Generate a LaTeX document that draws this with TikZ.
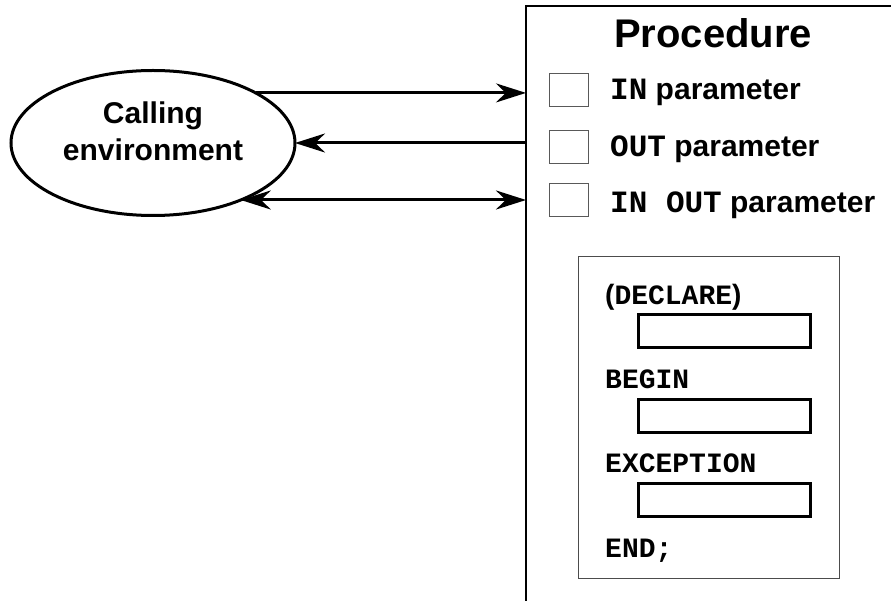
\documentclass[tikz,border=0pt]{standalone}
\usepackage{fontspec}
\setsansfont{Liberation Sans}
\setmonofont{Liberation Mono}
\usetikzlibrary{positioning,arrows.meta,shapes.geometric}

\begin{document}
\begin{tikzpicture}[x=1pt,y=-1pt,
    flecha/.style={line width=3pt,>={Stealth[length=30pt,width=19pt]}},
    casilla/.style={draw=black!65,line width=1pt,minimum width=39pt,minimum height=33pt,inner sep=0pt},
    bloque/.style={draw,line width=3pt,minimum width=172pt,minimum height=33pt,inner sep=0pt},
    etiq/.style={anchor=base west,inner sep=0pt,font=\sffamily\bfseries\fontsize{30}{34}\selectfont},
    codigo/.style={anchor=base west,inner sep=0pt,font=\ttfamily\bfseries\fontsize{28}{30}\selectfont}]
    \useasboundingbox (0,0) rectangle (891,601);
    \clip (0,0) rectangle (891,601);

    % Procedimiento
    \node[draw,line width=1.2pt,minimum width=420pt,minimum height=700pt,inner sep=0pt,outer sep=0pt,anchor=north west] (proc) at (526,6) {};
    \node[anchor=base,inner sep=0pt,font=\sffamily\bfseries\fontsize{40}{44}\selectfont] (titulo) at (713,48) {Procedure};

    % Parametros
    \node[casilla] (cin) at (568.5,90.5) {};
    \node[casilla] (cout) at (568.5,147) {};
    \node[casilla] (cinout) at (568.5,200) {};
    \node[etiq] (lin) at (610,100) {{\ttfamily\fontsize{31}{34}\selectfont IN} parameter};
    \node[etiq] (lout) at (610,157) {{\ttfamily\fontsize{31}{34}\selectfont OUT} parameter};
    \node[etiq] (linout) at (610,213) {{\ttfamily\fontsize{31}{34}\selectfont IN OUT} parameter};

    % Bloque PL/SQL
    \node[draw=black!70,line width=1pt,minimum width=261pt,minimum height=321pt,inner sep=0pt] (cuerpo) at (708.5,417.5) {};
    \node[codigo] (decl) at (605,305) {{\sffamily(}DECLARE{\sffamily)}};
    \node[bloque] (bdecl) at (724.5,331) {};
    \node[codigo] (begin) at (605,388) {BEGIN};
    \node[bloque] (bbegin) at (724.5,415.5) {};
    \node[codigo] (exc) at (605,472) {EXCEPTION};
    \node[bloque] (bexc) at (724.5,499.5) {};
    \node[codigo] (fin) at (605,557) {END;};

    % Entorno que llama
    \node[ellipse,draw,line width=3pt,minimum width=284pt,minimum height=145pt,inner sep=0pt,outer sep=0pt] (env) at (153,143) {};
    \node[align=center,font=\sffamily\bfseries\fontsize{30}{37}\selectfont] (envtxt) at (153,131) {Calling\\environment};

    % Flechas
    \draw[flecha,->] (env.26) -- (env.26 -| proc.west);
    \draw[flecha,->] (proc.west |- env.east) -- (env.east);
    \draw[flecha,<->] (env.-33) -- (env.-33 -| proc.west);
\end{tikzpicture}
\end{document}
